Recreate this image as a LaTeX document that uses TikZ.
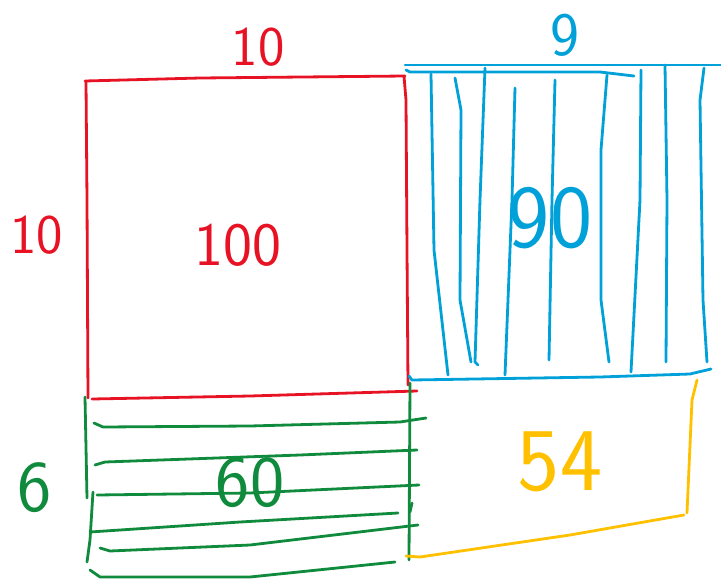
\documentclass[tikz,border=0pt]{standalone}
\usepackage{tikz}
\usetikzlibrary{positioning}
\definecolor{penred}{HTML}{E71224}
\definecolor{penblue}{HTML}{00A0D8}
\definecolor{pengreen}{HTML}{108A3C}
\definecolor{penyellow}{HTML}{FFC000}

\begin{document}
\begin{tikzpicture}[x=1pt, y=-1pt, line cap=round, line join=round]
\tikzset{pen/.style={line width=2.8},
    digits/.style={font=\sffamily\fontsize{56}{56}\selectfont, inner sep=0}}
\useasboundingbox (0,0) rectangle (721,579);

    % red square
    \draw [color=penred, pen] (85,81)--(200,78)--(405,76);
    \draw [color=penred, pen] (86,82)--(87,200)--(88,398);
    \draw [color=penred, pen] (92,399)--(250,396)--(417,391);
    \draw [color=penred, pen] (404,76)--(406,100)--(407,250)--(408,385);

    % blue strip
    \draw [color=penblue, pen] (405,65)--(721,65);
    \draw [color=penblue, pen] (406,70)--(410,72)--(600,72)--(634,76);
    \draw [color=penblue, pen] (431,74)--(434,250)--(448,375);
    \draw [color=penblue, pen] (455,78)--(461,110)--(460,300)--(471,362);
    \draw [color=penblue, pen] (485,68)--(480,200)--(475,362)--(478,365);
    \draw [color=penblue, pen] (515,88)--(512,200)--(505,375);
    \draw [color=penblue, pen] (555,80)--(552,200)--(549,360);
    \draw [color=penblue, pen] (607,75)--(601,150)--(601,300)--(609,362);
    \draw [color=penblue, pen] (641,70)--(640,200)--(631,372);
    \draw [color=penblue, pen] (665,65)--(667,200)--(666,362);
    \draw [color=penblue, pen] (704,68)--(700,100)--(703,300)--(707,362);
    \draw [color=penblue, pen] (409,376)--(412,380)--(600,377)--(690,374)--(711,369);

    % green strip
    \draw [color=pengreen, pen] (85,397)--(87,498);
    \draw [color=pengreen, pen] (93,492)--(90,540)--(87,562);
    \draw [color=pengreen, pen] (410,383)--(409,560);
    \draw [color=pengreen, pen] (412,503)--(410,512);
    \draw [color=pengreen, pen] (94,423)--(103,427)--(250,426)--(400,422)--(426,418);
    \draw [color=pengreen, pen] (95,465)--(105,462)--(300,455)--(417,450);
    \draw [color=pengreen, pen] (97,495)--(250,493)--(419,485);
    \draw [color=pengreen, pen] (90,532)--(240,522)--(398,513);
    \draw [color=pengreen, pen] (100,548)--(110,551)--(250,545)--(418,525);
    \draw [color=pengreen, pen] (90,570)--(100,577)--(250,577)--(395,562);

    % yellow corner
    \draw [color=penyellow, pen] (697,380)--(692,400)--(687,513);
    \draw [color=penyellow, pen] (406,556)--(420,557)--(570,535)--(684,515);

    \node [digits, text=penred] (topten) at (258,47) {10};
    \node [digits, text=penred] (leftten) at (37,235) {10};
    \node [digits, text=penred, scale=1.1] (hundred) at (238,245) {100};
    \node [digits, text=penblue, scale=1.1] (nine) at (565,35) {9};
    \node [digits, text=penblue, scale=1.6] (ninety) at (550,218) {90};
    \node [digits, text=pengreen, scale=1.3] (six) at (35,488) {6};
    \node [digits, text=pengreen, scale=1.3] (sixty) at (250,483) {60};
    \node [digits, text=penyellow, scale=1.6] (fiftyfour) at (560,462) {54};
\end{tikzpicture}
\end{document}
